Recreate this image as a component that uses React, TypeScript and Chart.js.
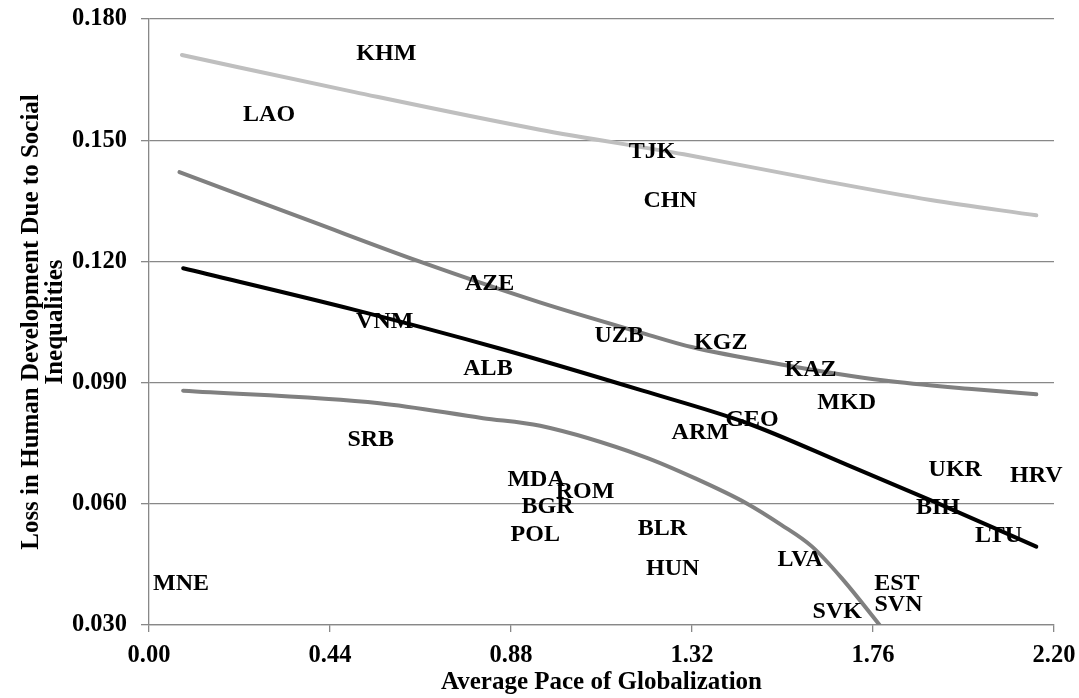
import React, { useEffect, useRef } from 'react';
import { Chart, registerables } from 'chart.js';

Chart.register(...registerables);

const xTickValues = [0, 0.44, 0.88, 1.32, 1.76, 2.2];
const yTickValues = [0.03, 0.06, 0.09, 0.12, 0.15, 0.18];

const countryCodes = ['KHM', 'LAO', 'TJK', 'CHN', 'AZE', 'VNM', 'UZB', 'KGZ', 'ALB', 'KAZ', 'MKD', 'GEO', 'ARM', 'SRB', 'MDA', 'ROM', 'BGR', 'POL', 'BLR', 'HUN', 'LVA', 'UKR', 'HRV', 'BIH', 'LTU', 'EST', 'SVN', 'SVK', 'MNE'];
const countryX = [0.577, 0.292, 1.223, 1.267, 0.828, 0.573, 1.143, 1.39, 0.824, 1.608, 1.696, 1.466, 1.34, 0.539, 0.941, 1.06, 0.969, 0.939, 1.248, 1.273, 1.583, 1.96, 2.157, 1.918, 2.065, 1.818, 1.822, 1.673, 0.078];
const countryY = [0.1715, 0.1562, 0.1472, 0.135, 0.1144, 0.1051, 0.1015, 0.0998, 0.0935, 0.0931, 0.0849, 0.0807, 0.0775, 0.0758, 0.0659, 0.063, 0.0593, 0.0523, 0.0539, 0.0438, 0.0462, 0.0684, 0.0669, 0.0591, 0.0522, 0.0403, 0.035, 0.0333, 0.0401];

const lightCurveX = [0.08, 0.5, 0.95, 1.3, 1.62, 1.9, 2.157];
const lightCurveY = [0.1711, 0.1619, 0.1526, 0.1465, 0.1403, 0.1352, 0.1314];

const upperGrayX = [0.074, 0.4, 0.657, 0.952, 1.202, 1.319, 1.537, 1.788, 2.0, 2.157];
const upperGrayY = [0.1421, 0.1297, 0.12, 0.1098, 0.1022, 0.0988, 0.0945, 0.0905, 0.0884, 0.0871];

const blackCurveX = [0.083, 0.5, 0.85, 1.2, 1.453, 1.7, 1.918, 2.157];
const blackCurveY = [0.1183, 0.108, 0.0985, 0.088, 0.08, 0.0695, 0.0601, 0.0494];

const lowerGrayX = [0.083, 0.56, 0.812, 0.951, 1.202, 1.328, 1.453, 1.537, 1.612, 1.688, 1.776];
const lowerGrayY = [0.088, 0.0849, 0.0812, 0.0793, 0.0717, 0.0663, 0.0601, 0.0548, 0.0494, 0.0411, 0.03];

const FONT_FAMILY = "'Liberation Serif', 'Times New Roman', serif";
const GRID_COLOR = '#888888';

const toPoints = (xs: number[], ys: number[]) => xs.map((x, i) => ({ x, y: ys[i] }));

const labelPlugin = {
  id: 'countryLabels',
  afterDatasetsDraw(chart: any) {
    const idx = chart.data.datasets.findIndex((d: any) => d.label === 'Countries');
    if (idx < 0) return;
    const meta = chart.getDatasetMeta(idx);
    const ctx = chart.ctx;
    ctx.save();
    ctx.font = `bold 24px ${FONT_FAMILY}`;
    ctx.fillStyle = '#000000';
    ctx.textAlign = 'center';
    ctx.textBaseline = 'middle';
    meta.data.forEach((pt: any, i: number) => {
      ctx.fillText(countryCodes[i], pt.x, pt.y);
    });
    ctx.restore();
  },
};

function lineDataset(label: string, xs: number[], ys: number[], color: string) {
  return {
    label,
    data: toPoints(xs, ys),
    showLine: true,
    borderColor: color,
    backgroundColor: color,
    borderWidth: 4,
    borderCapStyle: 'round' as const,
    pointRadius: 0,
    pointHoverRadius: 0,
    cubicInterpolationMode: 'monotone' as const,
    fill: false,
  };
}

export default function App() {
  const canvasRef = useRef<HTMLCanvasElement | null>(null);

  useEffect(() => {
    if (!canvasRef.current) return;
    const tickFont = { family: FONT_FAMILY, size: 24.5, weight: 'bold' as const };
    const chart = new Chart(canvasRef.current, {
      type: 'scatter',
      data: {
        datasets: [
          lineDataset('Top curve', lightCurveX, lightCurveY, '#BFBFBF'),
          lineDataset('Upper gray curve', upperGrayX, upperGrayY, '#808080'),
          lineDataset('Lower gray curve', lowerGrayX, lowerGrayY, '#808080'),
          lineDataset('Black curve', blackCurveX, blackCurveY, '#000000'),
          {
            label: 'Countries',
            data: toPoints(countryX, countryY),
            pointRadius: 0,
            pointHoverRadius: 0,
            showLine: false,
          } as any,
        ],
      },
      options: {
        animation: false,
        responsive: false,
        devicePixelRatio: 1,
        layout: { padding: { top: 19, right: 25, left: 0, bottom: 0 } },
        plugins: {
          legend: { display: false },
          tooltip: { enabled: false },
        },
        scales: {
          x: {
            type: 'linear',
            min: 0,
            max: 2.2,
            afterBuildTicks: (s: any) => {
              s.ticks = xTickValues.map((v) => ({ value: v }));
            },
            afterFit: (s: any) => {
              s.height = 73;
              s.paddingRight = 0;
              s.paddingLeft = 0;
            },
            ticks: {
              callback: (v: any) => Number(v).toFixed(2),
              font: tickFont,
              color: '#000000',
              padding: 9,
              maxRotation: 0,
              autoSkip: false,
            },
            grid: {
              drawOnChartArea: false,
              drawTicks: true,
              tickLength: 7,
              color: GRID_COLOR,
              lineWidth: 1.3,
            },
            border: { display: true, color: GRID_COLOR, width: 1.3 },
            title: {
              display: true,
              text: 'Average Pace of Globalization',
              color: '#000000',
              font: { family: FONT_FAMILY, size: 25, weight: 'bold', lineHeight: 1.2 },
              padding: { top: 0, bottom: 0 },
            },
          },
          y: {
            type: 'linear',
            min: 0.03,
            max: 0.18,
            afterBuildTicks: (s: any) => {
              s.ticks = yTickValues.map((v) => ({ value: v }));
            },
            afterFit: (s: any) => {
              s.width = 149;
              s.paddingTop = 0;
              s.paddingBottom = 0;
            },
            ticks: {
              callback: (v: any) => Number(v).toFixed(3),
              font: tickFont,
              color: '#000000',
              padding: 14,
              autoSkip: false,
            },
            grid: {
              drawTicks: true,
              tickLength: 8,
              color: GRID_COLOR,
              lineWidth: 1.3,
            },
            border: { display: true, color: GRID_COLOR, width: 1.3 },
            title: {
              display: true,
              text: ['Loss in Human Development Due to Social', 'Inequalities'],
              color: '#000000',
              font: { family: FONT_FAMILY, size: 25, weight: 'bold', lineHeight: 0.95 },
              padding: { top: 20, bottom: 0 },
            },
          },
        },
      },
      plugins: [labelPlugin],
    });
    return () => chart.destroy();
  }, []);

  return (
    <div style={{ position: 'absolute', left: 0, top: 0, width: 1079, height: 698, background: '#ffffff' }}>
      <canvas ref={canvasRef} width={1079} height={698} style={{ display: 'block' }} />
    </div>
  );
}
